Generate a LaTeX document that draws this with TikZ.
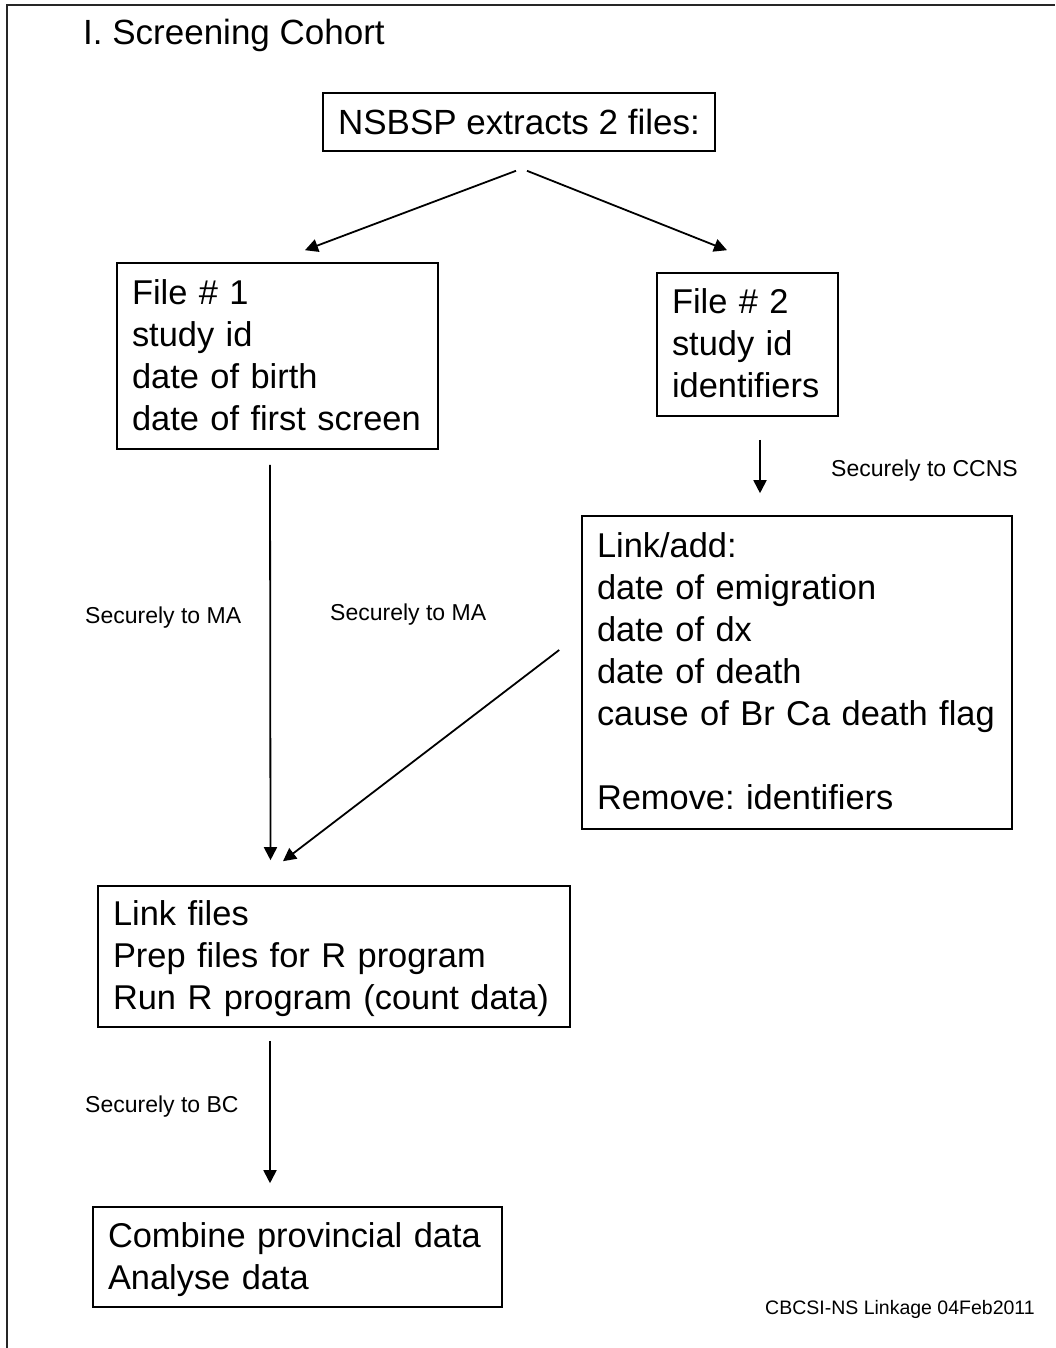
\documentclass[tikz,border=0pt]{standalone}
\usepackage{fontspec}
\setmainfont{Liberation Sans}
\usetikzlibrary{arrows.meta,calc}
\frenchspacing
\newcommand\titletxt{\fontsize{35}{42}\selectfont\frenchspacing}
\newcommand\bigtxt{\fontsize{34.4}{42}\selectfont\frenchspacing}
\newcommand\lbltxt{\fontsize{23}{27}\selectfont}
\newcommand\foottxt{\fontsize{19.5}{23}\selectfont}
\newcommand\oneline[1]{\mbox{#1}}
\newcommand\topstrut{\rule{0pt}{32pt}}
\newcommand\botstrut{\rule[-10pt]{0pt}{10pt}}
\tikzset{
  boxnode/.style={draw=black, line width=1.6pt, rectangle, inner xsep=15pt, inner ysep=0pt,
    align=left, font=\bigtxt},
  arr/.style={draw=black, line width=1.8pt, -{Triangle[length=13pt,width=13pt]}},
  lbl/.style={anchor=west, inner sep=0pt, font=\lbltxt},
}
\begin{document}
\begin{tikzpicture}[x=1pt,y=-1pt]
\useasboundingbox (0,0) rectangle (1055,1348);
\fill[white] (0,0) rectangle (1055,1348);
% page frame
\draw[line width=2.2pt, black!85] (7,1348) -- (7,5) -- (1055,5);
% title
\node[anchor=base west, inner sep=0pt, font=\titletxt] (title) at (83,45) {I. Screening Cohort};
% boxes
\node[boxnode, align=center, font=\titletxt, minimum width=392pt, minimum height=58pt] (top) at (519,122) {NSBSP extracts 2 files:};
\node[boxnode, minimum width=321pt, minimum height=186pt, text width=291pt] (f1) at (277.5,356)
  {\topstrut\oneline{File \# 1}\\ \oneline{study id}\\ \oneline{date of birth}\\ \oneline{date of first screen}\botstrut};
\node[boxnode, minimum width=181pt, minimum height=143pt, text width=151pt] (f2) at (747.5,344.5)
  {\topstrut\oneline{File \# 2}\\ \oneline{study id}\\ \oneline{identifiers}\botstrut};
\node[boxnode, minimum width=430pt, minimum height=313pt, text width=400pt] (la) at (797,672.5)
  {\topstrut\oneline{Link/add:}\\ \oneline{date of emigration}\\ \oneline{date of dx}\\ \oneline{date of death}\\ \oneline{cause of Br Ca death flag}\\[42pt] \oneline{Remove: identifiers}\botstrut};
\node[boxnode, minimum width=472pt, minimum height=141pt, text width=442pt] (lf) at (334,956.5)
  {\topstrut\oneline{Link files}\\ \oneline{Prep files for R program}\\ \oneline{Run R program (count data)}\botstrut};
\node[boxnode, minimum width=409pt, minimum height=100pt, text width=379pt] (cb) at (297.5,1257)
  {\topstrut\oneline{Combine provincial data}\\ \oneline{Analyse data}\botstrut};
% arrows
\draw[arr] ($(top.south)+(-3,19)$) -- ($(f1.north)+(27.5,-12)$);
\draw[arr] ($(top.south)+(8,19)$) -- ($(f2.north)+(-20.5,-22)$);
\draw[arr] ($(f1.south)+(-7.5,15)$) -- ($(lf.north)+(-63.5,-25)$);
\draw[arr] ($(la.west)+(-22,-22.5)$) -- ($(lf.north)+(-51,-24)$);
\draw[arr] ($(f2.south)+(12.5,23)$) -- ($(la.north)+(-37,-22)$);
\draw[arr] ($(lf.south)+(-64,13)$) -- ($(cb.north)+(-27.5,-23)$);
% labels
\node[lbl] (l1) at (85,618) {Securely to MA};
\node[lbl] (l2) at (330,615) {Securely to MA};
\node[lbl] (l3) at (831,471) {Securely to CCNS};
\node[lbl] (l4) at (85,1107) {Securely to BC};
\node[anchor=west, inner sep=0pt, font=\foottxt] (foot) at (765,1309) {CBCSI-NS Linkage 04Feb2011};
\end{tikzpicture}
\end{document}
